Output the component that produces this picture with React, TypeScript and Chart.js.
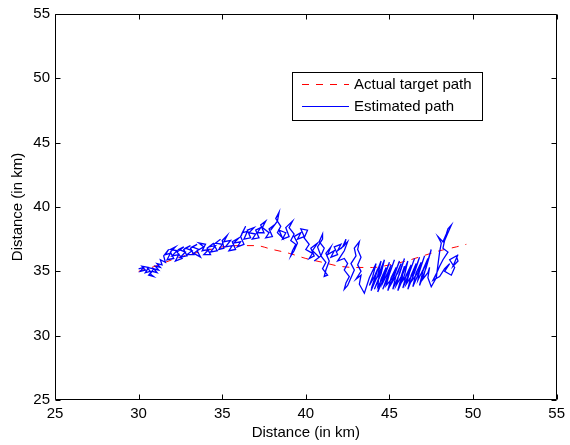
import { useEffect, useRef } from "react";
import { Chart, registerables } from "chart.js";

Chart.register(...registerables);

const xTicks = [25, 30, 35, 40, 45, 50, 55];
const yTicks = [25, 30, 35, 40, 45, 50, 55];
const axisTitle = "Distance (in km)";
const legendLabels = ["Actual target path", "Estimated path"];

const actualX = [30.0, 31.0, 32.0, 33.0, 34.0, 35.0, 36.0, 37.0, 38.0, 39.0, 40.0, 41.0, 42.0, 43.0, 44.0, 45.0, 46.0, 47.0, 48.0, 49.0, 49.6];
const actualY = [35.0, 35.4, 35.9, 36.3, 36.6, 36.9, 37.0, 37.0, 36.7, 36.4, 36.0, 35.7, 35.4, 35.3, 35.3, 35.5, 35.8, 36.2, 36.6, 36.9, 37.1];

const estX = [
  30.0, 30.3, 30.1, 30.4, 30.2, 30.6, 30.4, 30.7, 30.5, 30.9,
  30.7, 30.9, 30.6, 30.8, 31.1, 30.9, 31.2, 31.0, 31.3, 31.1,
  31.4, 31.3, 31.6, 31.5, 31.8, 31.6, 31.9, 31.7, 32.1, 31.9,
  32.2, 31.9, 32.3, 32.0, 32.4, 32.2, 32.6, 32.3, 32.7, 32.4,
  32.8, 32.5, 32.9, 32.7, 33.1, 32.8, 33.2, 32.9, 33.3, 33.1,
  33.5, 33.2, 33.6, 33.3, 33.7, 33.5, 33.9, 33.6, 34.0, 33.8,
  34.2, 33.9, 34.3, 34.1, 34.5, 34.2, 34.6, 34.3, 34.7, 34.5,
  34.9, 34.6, 35.0, 34.8, 35.1, 35.0, 35.3, 35.1, 35.5, 35.2,
  35.6, 35.4, 35.8, 35.6, 36.0, 35.7, 36.1, 35.9, 36.3, 36.1,
  36.4, 36.2, 36.5, 36.3, 36.7, 36.5, 36.9, 36.6, 37.0, 36.8,
  37.2, 37.0, 37.3, 37.1, 37.5, 37.3, 37.6, 37.4, 37.8, 37.6,
  38.0, 37.8, 38.1, 37.9, 38.3, 38.4, 38.2, 38.5, 38.3, 38.6,
  38.4, 38.8, 38.6, 39.0, 38.8, 39.2, 39.0, 39.3, 39.1, 39.4,
  39.2, 39.1, 39.3, 39.5, 39.3, 39.7, 39.5, 39.9, 39.7, 40.1,
  39.9, 40.2, 40.0, 40.4, 40.2, 40.5, 40.3, 40.7, 40.4, 40.8,
  40.5, 40.9, 40.7, 41.0, 41.0, 40.8, 41.1, 40.9, 41.2, 41.0,
  41.3, 41.1, 41.2, 41.4, 41.2, 41.5, 41.3, 41.7, 41.5, 41.9,
  41.7, 42.1, 41.9, 42.3, 42.4, 42.2, 42.5, 42.3, 42.1, 41.9,
  42.3, 42.5, 42.3, 42.6, 42.4, 42.3, 42.5, 42.7, 42.9, 42.7,
  43.0, 42.9, 43.2, 43.1, 43.3, 43.1, 43.3, 43.0, 43.3, 43.2,
  43.5,
  43.8, 44.2, 44.0,
  43.8, 44.1, 44.3, 44.1,
  43.9, 44.3, 44.5, 44.2,
  44.0, 44.4, 44.6, 44.4,
  44.1, 44.5, 44.7, 44.4,
  44.3, 44.6, 44.8, 44.5,
  44.3, 44.7, 45.0, 44.7,
  44.6, 44.9, 45.1, 44.9,
  44.6, 45.0, 45.3, 45.0,
  44.8, 45.2, 45.4, 45.1,
  44.9, 45.3, 45.6, 45.3,
  45.1, 45.5, 45.7, 45.4,
  45.2, 45.6, 45.9, 45.6,
  45.4, 45.7, 45.9, 45.7,
  45.5, 45.9, 46.1, 45.8,
  45.7, 46.1, 46.3, 46.0,
  45.8, 46.2, 46.5, 46.2,
  46.0, 46.4, 46.6, 46.3,
  46.1, 46.5, 46.8, 46.5,
  46.3, 46.7, 46.9, 46.6,
  46.4, 46.8, 47.1, 46.8,
  46.7, 47.0, 47.3, 47.0,
  46.8, 47.2, 47.5, 47.2,
  47.0, 47.3, 47.4, 47.3,
  47.5,
  47.8, 47.9, 48.0, 48.1, 47.9, 48.2, 48.4, 48.5, 48.7, 48.5,
  48.3, 48.2, 48.5, 48.2, 48.0, 47.8, 47.6, 48.0, 48.3, 48.6,
  48.3, 48.7, 48.9, 48.6, 49.0, 49.1, 48.8, 49.1,
];
const estY = [
  35.2, 35.3, 35.0, 35.1, 35.4, 35.3, 34.9, 35.0, 35.3, 35.2,
  34.8, 34.6, 34.7, 35.0, 34.9, 35.2, 35.1, 35.4, 35.3, 35.6,
  35.5, 35.9, 35.7, 36.2, 36.7, 36.3, 36.4, 35.9, 36.0, 36.5,
  36.9, 36.7, 36.6, 36.2, 36.3, 35.8, 36.0, 36.5, 36.9, 36.7,
  36.5, 36.1, 36.2, 36.7, 37.0, 36.8, 36.6, 36.3, 36.3, 36.8,
  37.1, 36.9, 36.7, 36.4, 36.1, 36.6, 36.9, 37.2, 37.1, 36.6,
  36.7, 36.3, 36.3, 36.8, 37.2, 36.9, 37.0, 36.5, 36.6, 37.1,
  37.5, 37.2, 37.1, 36.7, 36.8, 37.4, 37.8, 37.3, 37.4, 36.9,
  37.0, 36.6, 36.7, 37.3, 37.6, 37.2, 37.3, 36.9, 37.1, 37.7,
  38.5, 38.0, 38.1, 37.5, 37.6, 38.2, 38.4, 38.0, 37.9, 37.5,
  37.6, 38.2, 38.4, 38.0, 38.0, 38.6, 38.9, 38.4, 38.0, 37.6,
  37.7, 38.3, 38.6, 38.2, 38.9, 39.6, 39.1, 38.5, 38.0, 37.6,
  38.2, 38.0, 37.5, 37.7, 38.4, 38.9, 38.4, 37.9, 37.4, 37.1,
  36.6, 36.2, 36.6, 37.2, 37.7, 38.0, 37.5, 37.7, 38.3, 38.2,
  37.6, 37.1, 36.7, 36.4, 36.0, 36.2, 36.8, 37.2, 36.6, 36.1,
  35.8, 36.2, 36.9, 37.5, 37.9, 37.3, 36.8, 36.2, 35.7, 35.2,
  34.7, 34.6, 35.1, 35.8, 36.4, 36.9, 36.3, 36.6, 36.1, 36.3,
  36.9, 37.1, 36.6, 37.0, 37.5, 36.9, 37.3, 36.6, 36.2, 35.8,
  36.0, 35.6, 35.1, 34.6, 34.1, 33.6, 33.9, 34.5, 35.1, 35.6,
  36.2, 36.8, 37.3, 36.7, 36.1, 35.5, 35.0, 34.4, 34.7, 34.0,
  33.3,
  34.5, 35.6, 34.6,
  33.9, 34.6, 35.2, 34.3,
  33.5, 34.7, 35.8, 34.8,
  34.0, 34.8, 35.4, 34.6,
  33.6, 34.8, 35.9, 34.9,
  33.8, 34.5, 35.3, 34.4,
  33.4, 34.6, 35.7, 34.7,
  34.1, 34.9, 35.5, 34.7,
  33.6, 34.8, 35.9, 34.8,
  33.9, 34.5, 35.3, 34.5,
  33.5, 34.7, 35.8, 34.8,
  34.0, 34.9, 35.6, 34.7,
  33.6, 34.8, 36.0, 34.9,
  33.9, 34.6, 35.4, 34.5,
  33.5, 34.7, 35.8, 34.8,
  34.1, 34.8, 35.5, 34.7,
  33.7, 34.9, 36.0, 34.9,
  34.0, 34.8, 35.6, 34.7,
  33.6, 34.9, 36.1, 35.0,
  34.2, 34.9, 35.7, 34.9,
  33.8, 35.0, 36.2, 35.1,
  34.3, 35.1, 36.0, 35.0,
  33.9, 35.3, 36.7, 35.4,
  34.4, 34.9, 35.3, 34.5,
  33.8,
  34.5, 35.5, 36.5, 37.2, 37.7, 37.3, 37.9, 38.3, 38.6, 38.0,
  37.4, 36.8, 36.5, 35.9, 35.4, 34.8, 34.3, 34.6, 35.2, 35.6,
  35.0, 34.7, 35.3, 35.9, 36.2, 35.8, 35.4, 36.3,
];

const FONT = "'Liberation Sans', Arial, Helvetica, sans-serif";

const framePlugin = {
  id: "matlabFrame",
  afterDraw(chart: any) {
    const { ctx, chartArea } = chart;
    const { left, right, top, bottom } = chartArea;
    const xs = chart.scales.x;
    const ys = chart.scales.y;
    const L = Math.round(left) + 0.5;
    const R = Math.round(right) - 0.5;
    const T = Math.round(top) + 0.5;
    const B = Math.round(bottom) - 0.5;
    ctx.save();
    ctx.strokeStyle = "#000";
    ctx.lineWidth = 1;
    ctx.setLineDash([]);
    ctx.beginPath();
    ctx.rect(L, T, R - L, B - T);
    ctx.stroke();
    const tl = 5;
    ctx.beginPath();
    xTicks.forEach((v) => {
      const px = Math.round(xs.getPixelForValue(v)) + 0.5;
      ctx.moveTo(px, B);
      ctx.lineTo(px, B - tl);
      ctx.moveTo(px, T);
      ctx.lineTo(px, T + tl);
    });
    yTicks.forEach((v) => {
      const py = Math.round(ys.getPixelForValue(v)) + 0.5;
      ctx.moveTo(L, py);
      ctx.lineTo(L + tl, py);
      ctx.moveTo(R, py);
      ctx.lineTo(R - tl, py);
    });
    ctx.stroke();

    // legend
    const lx = 292.5, ly = 72.5, lw = 190, lh = 48;
    ctx.fillStyle = "#fff";
    ctx.fillRect(lx, ly, lw, lh);
    ctx.strokeStyle = "#000";
    ctx.strokeRect(lx, ly, lw, lh);
    const rows = [84, 106];
    const colors = ["#ff0000", "#0000ff"];
    const dashes = [[7, 7], []];
    rows.forEach((ry, i) => {
      ctx.strokeStyle = colors[i];
      ctx.setLineDash(dashes[i]);
      ctx.beginPath();
      ctx.moveTo(302, ry + 0.5);
      ctx.lineTo(349, ry + 0.5);
      ctx.stroke();
      ctx.setLineDash([]);
      ctx.fillStyle = "#000";
      ctx.font = `15px ${FONT}`;
      ctx.textBaseline = "middle";
      ctx.textAlign = "left";
      ctx.fillText(legendLabels[i], 354, ry + 1);
    });
    ctx.restore();
  },
};

export default function App() {
  const ref = useRef<HTMLCanvasElement | null>(null);
  useEffect(() => {
    document.body.style.margin = "0";
    const canvas = ref.current;
    if (!canvas) return;
    const chart = new Chart(canvas, {
      type: "scatter",
      data: {
        datasets: [
          {
            label: legendLabels[1],
            data: estX.map((x, i) => ({ x, y: estY[i] })),
            showLine: true,
            borderColor: "#0000ff",
            borderWidth: 1.3,
            pointRadius: 0,
            tension: 0,
            fill: false,
          },
          {
            label: legendLabels[0],
            data: actualX.map((x, i) => ({ x, y: actualY[i] })),
            showLine: true,
            borderColor: "#ff0000",
            borderWidth: 1,
            borderDash: [7, 7],
            pointRadius: 0,
            tension: 0.4,
            cubicInterpolationMode: "monotone",
            fill: false,
          },
        ],
      },
      options: {
        animation: false,
        responsive: false,
        devicePixelRatio: 1,
        layout: { padding: { left: 0, right: 8, top: 10, bottom: 0 } },
        plugins: { legend: { display: false }, tooltip: { enabled: false } },
        scales: {
          x: {
            type: "linear",
            min: 25,
            max: 55,
            grid: { display: false, drawTicks: false },
            border: { display: false },
            ticks: {
              stepSize: 5,
              color: "#000",
              font: { family: FONT, size: 15 },
              padding: 5,
              maxRotation: 0,
              autoSkip: false,
            },
            title: {
              display: true,
              text: axisTitle,
              color: "#000",
              font: { family: FONT, size: 15 },
              padding: { top: 0, bottom: 3 },
            },
            afterFit: (s: any) => {
              s.height = 45;
            },
          },
          y: {
            type: "linear",
            min: 25,
            max: 55,
            grid: { display: false, drawTicks: false },
            border: { display: false },
            ticks: {
              stepSize: 5,
              color: "#000",
              font: { family: FONT, size: 15 },
              padding: 5,
              autoSkip: false,
            },
            title: {
              display: true,
              text: axisTitle,
              color: "#000",
              font: { family: FONT, size: 15 },
              padding: { top: 9, bottom: 0 },
            },
            afterFit: (s: any) => {
              s.width = 55;
            },
          },
        },
      },
      plugins: [framePlugin],
    });
    return () => chart.destroy();
  }, []);
  return <canvas ref={ref} width={570} height={445} style={{ display: "block" }} />;
}
